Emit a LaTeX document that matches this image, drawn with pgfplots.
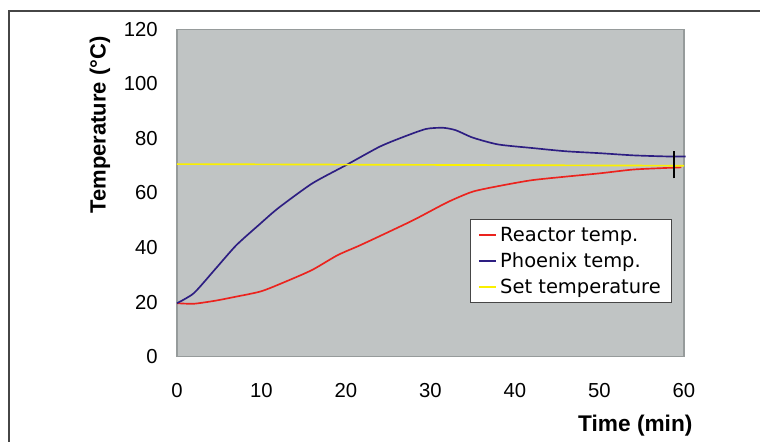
\documentclass[border=0pt]{standalone}
\usepackage{fontspec}
\setmainfont{Liberation Sans}
\newfontfamily\legfont{DejaVu Sans}
\usepackage{pgfplots}
\pgfplotsset{compat=1.18}
\definecolor{bgc}{RGB}{192,196,196}
\definecolor{framec}{RGB}{150,155,155}
\definecolor{redc}{RGB}{235,35,30}
\definecolor{bluec}{RGB}{45,30,130}
\definecolor{yelc}{RGB}{250,240,0}
\definecolor{outerc}{RGB}{70,70,70}
\begin{document}
\begin{tikzpicture}
\useasboundingbox (-132.75pt,-64pt) rectangle (437.25pt,267.5pt);
\fill[white] (-132.75pt,-64pt) rectangle (437.25pt,267.5pt);
\begin{axis}[
  at={(0pt,0pt)}, anchor=south west,
  scale only axis, width=380.25pt, height=245.5pt,
  xmin=0, xmax=60, ymin=0, ymax=120,
  xtick={0,10,...,60}, ytick={0,20,...,120},
  major tick length=0pt,
  axis background/.style={fill=bgc},
  axis line style={draw=framec, line width=1.1pt},
  /pgf/number format/assume math mode=true,
  tick label style={font=\fontsize{15.2}{18}\selectfont, inner sep=0pt},
  yticklabel style={xshift=-14.25pt},
  xticklabel style={yshift=-19.5pt},
  clip=false,
  xlabel={\textbf{Time (min)}},
  ylabel={\textbf{Temperature (°C)}},
  x label style={at={(axis description cs:0.904,-0.212)}, anchor=center, font=\fontsize{17}{20}\selectfont},
  y label style={at={(axis description cs:-0.152,0.708)}, anchor=center, font=\fontsize{16.5}{20}\selectfont},
  legend style={at={(axis description cs:0.976,0.42)}, anchor=north east, fill=white,
    draw=outerc, line width=0.6pt, font=\legfont\fontsize{14.6}{17}\selectfont,
    inner xsep=5.5pt, inner ysep=2pt, row sep=0pt,
    nodes={inner ysep=3.5pt, inner xsep=2.5pt}},
  legend cell align=left,
  legend image code/.code={\draw[#1, line width=1.5pt] (0pt,0pt) -- (12.75pt,0pt);},
]
\addplot[redc, line width=1.25pt, smooth, tension=0.4] coordinates {
(0,19.6) (2,19.4) (4.5,20.5) (7,22) (10,24) (13,27.7) (16,31.8) (19,37.2) (21.5,40.6) (24,44.2) (28,50.1) (32,56.6) (35,60.5) (38.5,62.8) (42,64.7) (46,66) (50,67.2) (54,68.6) (58,69.2) (59.7,69.4)
};
\addlegendentry{Reactor temp.}
\addplot[bluec, line width=1.25pt, smooth, tension=0.4] coordinates {
(0,19.6) (2,23.3) (4.5,32) (7,40.8) (9.8,48.6) (12,54.5) (16,63.5) (20,70.2) (24,77) (27,80.8) (29.5,83.5) (31.5,83.9) (33,83) (35,80.3) (38,77.8) (42,76.5) (46,75.3) (50,74.6) (54,73.8) (58,73.4) (60.2,73.4)
};
\addlegendentry{Phoenix temp.}
\addplot[yelc, line width=1.25pt] coordinates {(0,70.6) (60,70.0)};
\addlegendentry{Set temperature}
\addplot[black, line width=1.5pt, forget plot] coordinates {(58.85,65.4) (58.85,75.5)};
\end{axis}
\draw[line width=1pt, color=outerc] (-126pt,-70pt) -- (-126pt,259.3pt) -- (440pt,259.3pt);
\end{tikzpicture}
\end{document}
